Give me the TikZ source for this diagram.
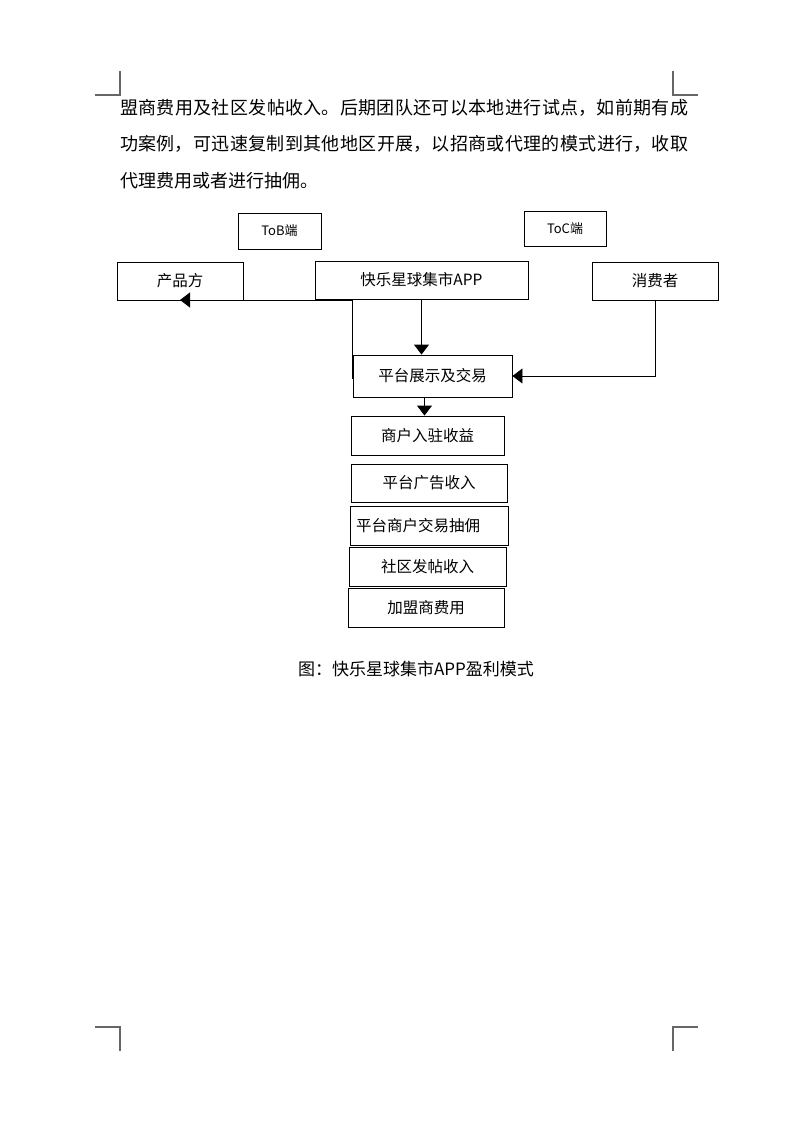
\documentclass[tikz,border=0pt]{standalone}
\usepackage{fontspec}
\setmainfont{Noto Sans CJK SC}
\usetikzlibrary{arrows.meta}
\XeTeXlinebreaklocale "zh"
\XeTeXlinebreakskip=0pt plus 2pt
\begin{document}
\begin{tikzpicture}[x=1pt,y=-1pt,
  box/.style={draw=black, line width=0.9pt, inner sep=0pt, font=\fontsize{15.5}{18}\selectfont},
  tag/.style={draw=black, line width=0.9pt, inner sep=0pt, font=\fontsize{13}{16}\selectfont},
  conn/.style={draw=black, line width=0.9pt},
  arr/.style={conn, -{Triangle[length=10pt,width=15pt]}},
  crop/.style={draw=black!60, line width=1.2pt}]
\useasboundingbox (0,0) rectangle (794,1123);
% crop marks
\draw[crop] (95,95) -- (120,95) -- (120,71);
\draw[crop] (673,71) -- (673,95) -- (698,95);
\draw[crop] (95,1027) -- (120,1027) -- (120,1051);
\draw[crop] (673,1051) -- (673,1027) -- (698,1027);
% body text
\node[anchor=north west, inner sep=0pt, text width=568pt, align=justify,
      font=\fontsize{18}{36.5}\selectfont] (body) at (120,99)
  {盟商费用及社区发帖收入。后期团队还可以本地进行试点，如前期有成\linebreak
   功案例，可迅速复制到其他地区开展，以招商或代理的模式进行，收取\linebreak
   代理费用或者进行抽佣。};
% nodes
\node[tag, minimum width=83pt, minimum height=36pt] (tob) at (279.5,231) {ToB端};
\node[tag, minimum width=82pt, minimum height=35pt] (toc) at (565,228.5) {ToC端};
\node[box, minimum width=126pt, minimum height=38pt] (cp) at (180,281) {产品方};
\node[box, minimum width=213pt, minimum height=38pt] (app) at (421.5,280) {快乐星球集市APP};
\node[box, minimum width=126pt, minimum height=38pt] (xf) at (655,281) {消费者};
\node[box, minimum width=159pt, minimum height=42pt] (plat) at (432.5,376) {平台展示及交易};
\node[box, minimum width=153pt, minimum height=39pt] (r1) at (427.5,435.5) {商户入驻收益};
\node[box, minimum width=156pt, minimum height=38pt] (r2) at (429,483) {平台广告收入};
\node[box, minimum width=158pt, minimum height=39pt, text width=146pt, align=left] (r3) at (429,525.5) {平台商户交易抽佣};
\node[box, minimum width=157pt, minimum height=39pt] (r4) at (427.5,566.5) {社区发帖收入};
\node[box, minimum width=156pt, minimum height=39pt] (r5) at (426,607.5) {加盟商费用};
% caption
\node[inner sep=0pt, font=\fontsize{17}{20}\selectfont] (cap) at (416,669) {图：快乐星球集市APP盈利模式};
% connectors
\coordinate (j) at (352,300);
\coordinate (jb) at (352,379);
\draw[conn] (j) -- (jb);
\draw[arr] (j) -- (cp.south |- j);
\draw[arr] (app.south) -- (app.south |- plat.north);
\draw[arr] (xf.south) |- (plat.east);
\draw[arr] ([xshift=-3pt]r1.north |- plat.south) -- ([xshift=-3pt]r1.north);
\end{tikzpicture}
\end{document}
